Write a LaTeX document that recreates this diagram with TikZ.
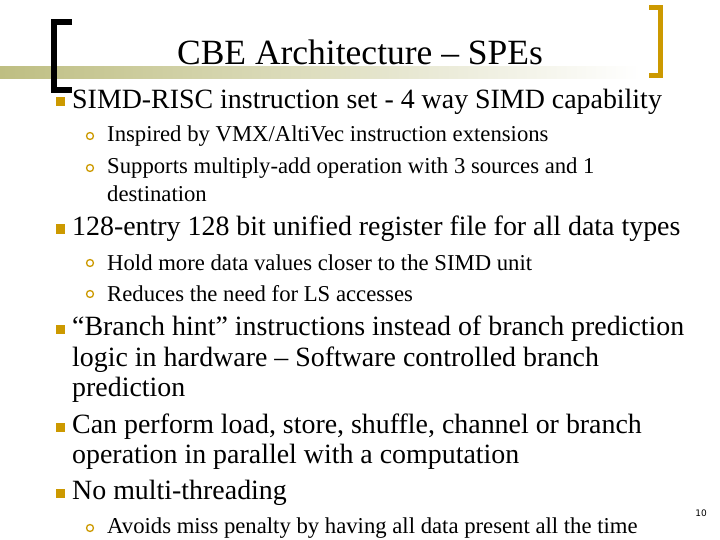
\documentclass[tikz,border=0pt]{standalone}
\usepackage{fontspec}
\setmainfont{Liberation Serif}
\newfontfamily\ds{DejaVu Sans}
\definecolor{gold}{RGB}{204,153,0}
\definecolor{olive}{RGB}{190,190,130}
\begin{document}
\begin{tikzpicture}[x=1pt,y=-1pt,
  lone/.style={anchor=west,inner sep=0pt,font=\fontsize{27.9}{30}\selectfont},
  ltwo/.style={anchor=west,inner sep=0pt,font=\fontsize{22.7}{26}\selectfont},
  sq/.style={fill=gold,minimum size=9pt,inner sep=0pt},
  circ/.style={draw=gold,circle,line width=1.3pt,minimum size=7pt,inner sep=0pt}]
\useasboundingbox (0,0) rectangle (720,540);
\shade[left color=olive,right color=white] (0,67) rectangle (640,79);
\draw[line width=6pt] (72,22) -- (54,22) -- (54,90) -- (72,90);
\draw[line width=5pt,gold] (649,8) -- (660,8) -- (660,76) -- (649,76);
\node[inner sep=0pt,font=\fontsize{35.5}{40}\selectfont] (t) at (360,52) {CBE Architecture – SPEs};
\foreach \y/\n in {102/a,229/b,329/c,427/d,493/e}{\node[sq] (s\n) at (60,\y) {};}
\foreach \y/\n in {136/a,168/b,263/c,294/d,528/e}{\node[circ] (c\n) at (90,\y) {};}
\node[lone] (l1) at (72,102) {SIMD-RISC instruction set - 4 way SIMD capability};
\node[ltwo] (l2) at (107,136) {Inspired by VMX/AltiVec instruction extensions};
\node[ltwo] (l3) at (107,168) {Supports multiply-add operation with 3 sources and 1};
\node[ltwo] (l3b) at (107,194) {destination};
\node[lone] (l4) at (72,229) {128-entry 128 bit unified register file for all data types};
\node[ltwo] (l5) at (107,263) {Hold more data values closer to the SIMD unit};
\node[ltwo] (l6) at (107,294) {Reduces the need for LS accesses};
\node[lone] (l7) at (72,329) {“Branch hint” instructions instead of branch prediction};
\node[lone] (l7b) at (72,360) {logic in hardware – Software controlled branch};
\node[lone] (l7c) at (72,390) {prediction};
\node[lone] (l8) at (72,427) {Can perform load, store, shuffle, channel or branch};
\node[lone] (l8b) at (72,457) {operation in parallel with a computation};
\node[lone] (l9) at (72,493) {No multi-threading};
\node[ltwo] (l10) at (107,528) {Avoids miss penalty by having all data present all the time};
\node[inner sep=0pt,font=\ds\fontsize{9}{10}\selectfont] (pg) at (701,513) {10};
\end{tikzpicture}
\end{document}
